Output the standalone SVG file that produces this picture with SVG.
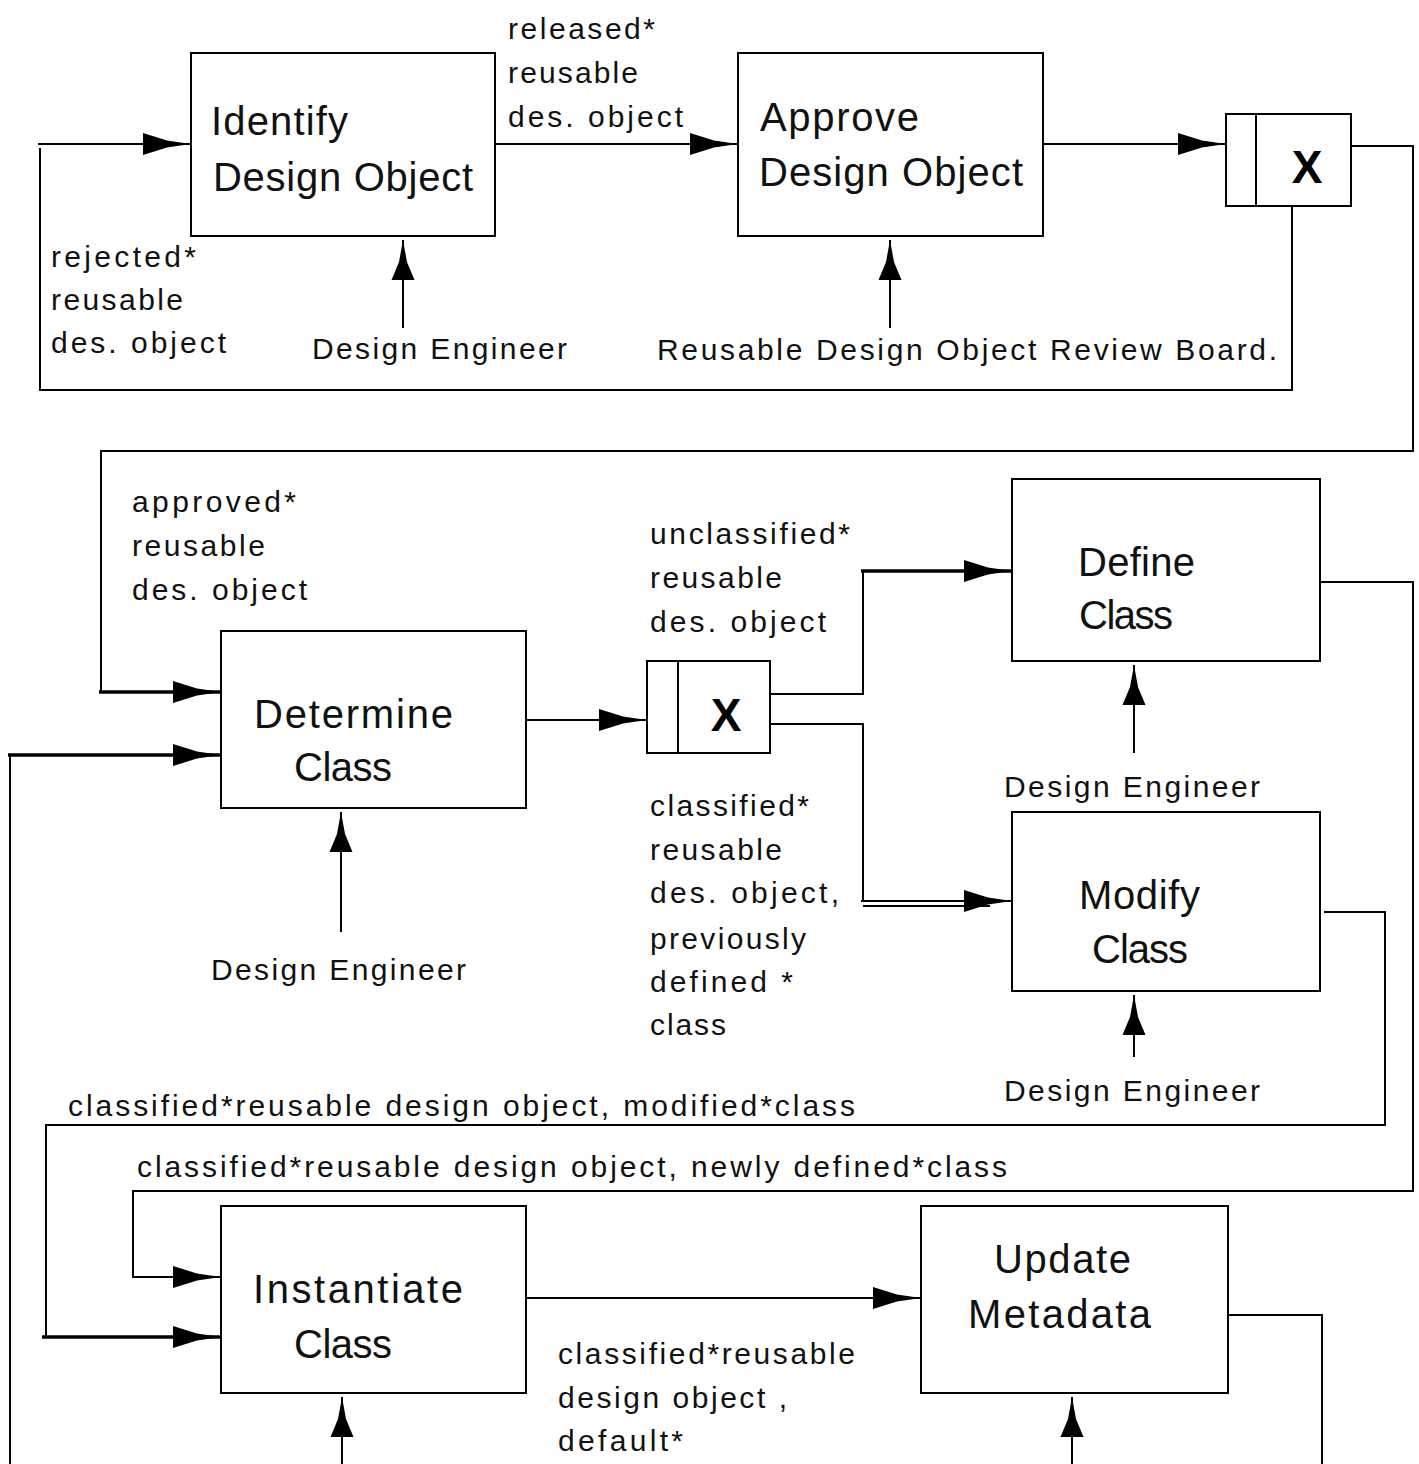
<svg xmlns="http://www.w3.org/2000/svg" width="1419" height="1464" viewBox="0 0 1419 1464">
<style>
  .bx{fill:#fff;stroke:#000;stroke-width:2}
  .ln{fill:none;stroke:#000;stroke-width:2}
  .th{fill:none;stroke:#000;stroke-width:3.5}
  .lbl{font-family:"Liberation Sans",Arial,sans-serif;font-size:30px;fill:#111}
  .bt{font-family:"Liberation Sans",Arial,sans-serif;font-size:40px;fill:#111}
  .gx{font-family:"Liberation Sans",Arial,sans-serif;font-size:46px;font-weight:bold;fill:#000;text-anchor:middle}
</style>
<defs>
  <marker id="ah" markerUnits="userSpaceOnUse" markerWidth="52" markerHeight="26" refX="50" refY="12" orient="auto" viewBox="0 0 52 24">
    <path d="M50,12 L26,8.5 L2,1 L2,23 L26,15.5 Z" fill="#000"/>
  </marker>
  <marker id="am" markerUnits="userSpaceOnUse" markerWidth="44" markerHeight="26" refX="42" refY="12" orient="auto" viewBox="0 0 44 24">
    <path d="M42,12 L20,8 L2,0.5 L2,23.5 L20,16 Z" fill="#000"/>
  </marker>
</defs>

<g id="connectors">
  <!-- top row -->
  <path class="ln" d="M38,144 H191" marker-end="url(#ah)"/>
  <path class="ln" d="M1292,206 V390 H40 V148"/>
  <path class="ln" d="M495,144 H738" marker-end="url(#ah)"/>
  <path class="ln" d="M1043,144 H1226" marker-end="url(#ah)"/>
  <path class="ln" d="M1351,146 H1413 V451 H101 V692"/>
  <path class="th" d="M99,692 H221" marker-end="url(#ah)"/>
  <path class="ln" d="M403,328 V240" marker-end="url(#am)"/>
  <path class="ln" d="M890,328 V240" marker-end="url(#am)"/>
  <!-- middle row -->
  <path class="ln" d="M10,1464 V755"/>
  <path class="th" d="M8,755 H221" marker-end="url(#ah)"/>
  <path class="ln" d="M527,720 H647" marker-end="url(#ah)"/>
  <path class="ln" d="M770,694 H863 V571"/>
  <path class="th" d="M861,571 H1012" marker-end="url(#ah)"/>
  <path class="ln" d="M770,724 H863 V901"/>
  <path class="ln" d="M861,901 H1012" marker-end="url(#ah)"/>
  <path class="ln" d="M863,906 H990"/>
  <path class="ln" d="M1320,582 H1413 V1191 H133 V1277 H221" marker-end="url(#ah)"/>
  <path class="ln" d="M1324,912 H1385 V1125 H46 V1337"/>
  <path class="th" d="M42,1337 H221" marker-end="url(#ah)"/>
  <path class="ln" d="M341,932 V812" marker-end="url(#am)"/>
  <path class="ln" d="M1134,753 V665" marker-end="url(#am)"/>
  <path class="ln" d="M1134,1057 V995" marker-end="url(#am)"/>
  <!-- bottom row -->
  <path class="ln" d="M526,1298 H921" marker-end="url(#ah)"/>
  <path class="ln" d="M1228,1315 H1322 V1464"/>
  <path class="ln" d="M342,1464 V1397" marker-end="url(#am)"/>
  <path class="ln" d="M1072,1464 V1397" marker-end="url(#am)"/>
</g>

<g id="labels">
  <text class="lbl" x="508" y="39" textLength="147" lengthAdjust="spacing">released*</text>
  <text class="lbl" x="508" y="83" textLength="130" lengthAdjust="spacing">reusable</text>
  <text class="lbl" x="508" y="127" textLength="175" lengthAdjust="spacing">des. object</text>
  <text class="lbl" x="51" y="267" textLength="145" lengthAdjust="spacing">rejected*</text>
  <text class="lbl" x="51" y="310" textLength="132" lengthAdjust="spacing">reusable</text>
  <text class="lbl" x="51" y="353" textLength="175" lengthAdjust="spacing">des. object</text>
  <text class="lbl" x="312" y="359" textLength="255" lengthAdjust="spacing">Design Engineer</text>
  <text class="lbl" x="657" y="360" textLength="620" lengthAdjust="spacing">Reusable Design Object  Review Board.</text>
  <text class="lbl" x="132" y="512" textLength="164" lengthAdjust="spacing">approved*</text>
  <text class="lbl" x="132" y="556" textLength="133" lengthAdjust="spacing">reusable</text>
  <text class="lbl" x="132" y="600" textLength="175" lengthAdjust="spacing">des. object</text>
  <text class="lbl" x="650" y="544" textLength="200" lengthAdjust="spacing">unclassified*</text>
  <text class="lbl" x="650" y="588" textLength="132" lengthAdjust="spacing">reusable</text>
  <text class="lbl" x="650" y="632" textLength="176" lengthAdjust="spacing">des. object</text>
  <text class="lbl" x="650" y="816" textLength="159" lengthAdjust="spacing">classified*</text>
  <text class="lbl" x="650" y="860" textLength="132" lengthAdjust="spacing">reusable</text>
  <text class="lbl" x="650" y="903" textLength="189" lengthAdjust="spacing">des. object,</text>
  <text class="lbl" x="650" y="949" textLength="156" lengthAdjust="spacing">previously</text>
  <text class="lbl" x="650" y="992" textLength="143" lengthAdjust="spacing">defined *</text>
  <text class="lbl" x="650" y="1035" textLength="76" lengthAdjust="spacing">class</text>
  <text class="lbl" x="1004" y="797" textLength="256" lengthAdjust="spacing">Design Engineer</text>
  <text class="lbl" x="1004" y="1101" textLength="256" lengthAdjust="spacing">Design Engineer</text>
  <text class="lbl" x="211" y="980" textLength="255" lengthAdjust="spacing">Design Engineer</text>
  <text class="lbl" x="68" y="1116" textLength="787" lengthAdjust="spacing">classified*reusable design object, modified*class</text>
  <text class="lbl" x="137" y="1177" textLength="870" lengthAdjust="spacing">classified*reusable design object, newly defined*class</text>
  <text class="lbl" x="558" y="1364" textLength="297" lengthAdjust="spacing">classified*reusable</text>
  <text class="lbl" x="558" y="1408" textLength="229" lengthAdjust="spacing">design object ,</text>
  <text class="lbl" x="558" y="1451" textLength="125" lengthAdjust="spacing">default*</text>
</g>

<g id="identify">
  <rect class="bx" x="191" y="53" width="304" height="183"/>
  <text class="bt" x="211" y="135" textLength="137" lengthAdjust="spacing">Identify</text>
  <text class="bt" x="213" y="191" textLength="260" lengthAdjust="spacing">Design Object</text>
</g>
<g id="approve">
  <rect class="bx" x="738" y="53" width="305" height="183"/>
  <text class="bt" x="760" y="131" textLength="159" lengthAdjust="spacing">Approve</text>
  <text class="bt" x="759" y="186" textLength="264" lengthAdjust="spacing">Design Object</text>
</g>
<g id="gate1">
  <rect class="bx" x="1226" y="114" width="125" height="92"/>
  <line class="ln" x1="1256" y1="114" x2="1256" y2="206"/>
  <text class="gx" x="1307" y="183">X</text>
</g>
<g id="determine">
  <rect class="bx" x="221" y="631" width="305" height="177"/>
  <text class="bt" x="254" y="728" textLength="199" lengthAdjust="spacing">Determine</text>
  <text class="bt" x="294" y="781" textLength="98" lengthAdjust="spacing">Class</text>
</g>
<g id="gate2">
  <rect class="bx" x="647" y="661" width="123" height="92"/>
  <line class="ln" x1="678" y1="661" x2="678" y2="753"/>
  <text class="gx" x="726" y="731">X</text>
</g>
<g id="define">
  <rect class="bx" x="1012" y="479" width="308" height="182"/>
  <text class="bt" x="1078" y="576" textLength="117" lengthAdjust="spacing">Define</text>
  <text class="bt" x="1079" y="629" textLength="94" lengthAdjust="spacing">Class</text>
</g>
<g id="modify">
  <rect class="bx" x="1012" y="812" width="308" height="179"/>
  <text class="bt" x="1079" y="909" textLength="121" lengthAdjust="spacing">Modify</text>
  <text class="bt" x="1092" y="963" textLength="96" lengthAdjust="spacing">Class</text>
</g>
<g id="instantiate">
  <rect class="bx" x="221" y="1206" width="305" height="187"/>
  <text class="bt" x="253" y="1303" textLength="210" lengthAdjust="spacing">Instantiate</text>
  <text class="bt" x="294" y="1358" textLength="98" lengthAdjust="spacing">Class</text>
</g>
<g id="update">
  <rect class="bx" x="921" y="1206" width="307" height="187"/>
  <text class="bt" x="994" y="1273" textLength="137" lengthAdjust="spacing">Update</text>
  <text class="bt" x="968" y="1328" textLength="183" lengthAdjust="spacing">Metadata</text>
</g>
</svg>
